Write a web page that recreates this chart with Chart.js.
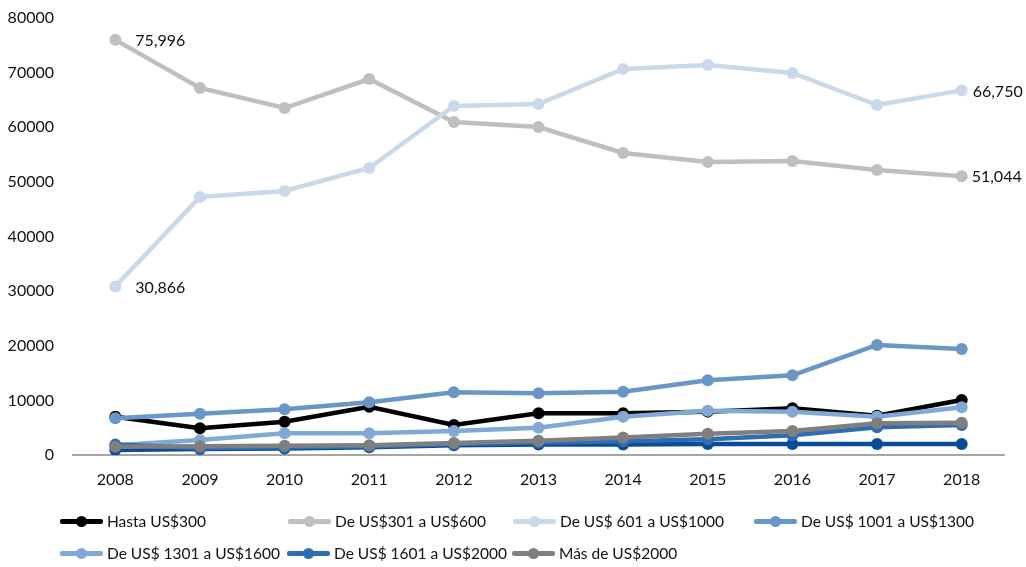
<!DOCTYPE html>
<html>
<head>
<meta charset="utf-8">
<script src="https://cdn.jsdelivr.net/npm/chart.js@4.4.1/dist/chart.umd.min.js"></script>
<style>
  html, body { margin: 0; padding: 0; background: #fff; }
  #wrap { position: relative; width: 1026px; height: 567px; overflow: hidden; }
  #c { position: absolute; left: 0; top: 0; }
  .lg { position: absolute; display: flex; align-items: center; font-family: Lato, "Open Sans", sans-serif; font-size: 15.5px; color: #111; white-space: nowrap; height: 20px; }
  .sym { position: relative; width: 43px; height: 20px; margin-right: 4px; flex: none; }
  .sym .ln { position: absolute; left: 0; right: 0; top: 8px; height: 4.5px; border-radius: 2px; }
  .sym .dt { position: absolute; left: 16px; top: 4.5px; width: 11px; height: 11px; border-radius: 50%; }
</style>
</head>
<body>
<div id="wrap">
  <canvas id="c" width="1026" height="567"></canvas>
</div>
<script>
const years = ['2008','2009','2010','2011','2012','2013','2014','2015','2016','2017','2018'];
const yTicks = [0, 10000, 20000, 30000, 40000, 50000, 60000, 70000, 80000];

const seriesNames = [
  'Hasta US$300',
  'De US$301 a US$600',
  'De US$ 601 a US$1000',
  'De US$ 1001 a US$1300',
  'De US$ 1301 a US$1600',
  'De US$ 1601 a US$2000',
  'Más de US$2000'
];

const hasta300  = [7010, 4880, 6100, 8840, 5490, 7630, 7630, 7940, 8540, 7200, 10070];
const de301     = [75996, 67190, 63520, 68830, 60960, 60050, 55290, 53640, 53820, 52170, 51044];
const de601     = [30866, 47230, 48330, 52540, 63890, 64260, 70660, 71400, 69930, 64070, 66750];
const de1001    = [6720, 7560, 8370, 9650, 11480, 11300, 11590, 13680, 14590, 20140, 19400];
const de1301    = [1800, 2750, 3970, 3970, 4390, 5000, 7010, 8110, 7930, 7010, 8730];
const de1601    = [1900, 1300, 1400, 1600, 2000, 2300, 2500, 2900, 3600, 5100, 5500];
const mas2000   = [1500, 1600, 1700, 1800, 2200, 2600, 3200, 3900, 4400, 5800, 5900];
const sinLeyenda = [900, 1100, 1200, 1400, 1800, 1900, 1900, 2000, 2000, 2000, 2000];

const colors = ['#000000', '#bfbfbf', '#c9d9eb', '#6896c7', '#80a9d5', '#2e6db4', '#7f7f7f'];
const hiddenColor = '#0a4c98';

const allData = [hasta300, de301, de601, de1001, de1301, de1601, mas2000];

function ds(label, data, color, order) {
  return {
    label: label, data: data,
    borderColor: color, backgroundColor: color,
    pointBackgroundColor: color, pointBorderColor: color,
    borderWidth: 4.5, pointRadius: 6, pointHoverRadius: 6, pointBorderWidth: 0,
    tension: 0, fill: false, order: order
  };
}

const datasets = [ds('', sinLeyenda, hiddenColor, 20)];
allData.forEach((d, i) => datasets.push(ds(seriesNames[i], d, colors[i], 10 - i)));

// labels: [dataset index, point index, x offset]
const valueLabels = [[2, 0, 20], [3, 0, 20], [3, 10, 11], [2, 10, 10]];

const labelPlugin = {
  id: 'valueLabels',
  afterDatasetsDraw(chart) {
    const ctx = chart.ctx;
    ctx.save();
    ctx.font = '16px Lato, "Open Sans", sans-serif';
    ctx.fillStyle = '#111';
    ctx.textAlign = 'left';
    ctx.textBaseline = 'middle';
    valueLabels.forEach(([di, pi, dx]) => {
      const meta = chart.getDatasetMeta(di);
      const pt = meta.data[pi];
      const v = chart.data.datasets[di].data[pi];
      ctx.fillText(v.toLocaleString('en-US'), pt.x + dx, pt.y + 1);
    });
    ctx.restore();
  }
};

new Chart(document.getElementById('c'), {
  type: 'line',
  data: { labels: years, datasets: datasets },
  options: {
    responsive: false,
    animation: false,
    devicePixelRatio: 1,
    layout: { padding: { left: 0, right: 22, top: 18, bottom: 0 } },
    plugins: { legend: { display: false }, tooltip: { enabled: false } },
    scales: {
      x: {
        offset: true,
        grid: { display: false, drawTicks: false },
        border: { display: true, color: '#a6a6a6', width: 2 },
        ticks: { padding: 15, color: '#111', font: { family: 'Lato, "Open Sans", sans-serif', size: 16 }, maxRotation: 0 },
        afterFit(scale) { scale.height = 112; scale.paddingLeft = 0; scale.paddingRight = 0; }
      },
      y: {
        min: 0, max: 80000,
        afterBuildTicks(scale) { scale.ticks = yTicks.map(v => ({ value: v })); },
        grid: { display: false, drawTicks: false },
        border: { display: false },
        ticks: { padding: 19, color: '#111', font: { family: 'Lato, "Open Sans", sans-serif', size: 16 }, callback: v => String(v) },
        afterFit(scale) { scale.width = 73; scale.paddingTop = 0; scale.paddingBottom = 0; }
      }
    }
  },
  plugins: [labelPlugin]
});

// HTML legend built from series names and colours
const legendPos = [[60, 511], [288, 511], [513, 511], [754, 511], [60, 543], [287, 543], [512, 543]];
const wrap = document.getElementById('wrap');
seriesNames.forEach((name, i) => {
  const item = document.createElement('div');
  item.className = 'lg';
  item.style.left = legendPos[i][0] + 'px';
  item.style.top = legendPos[i][1] + 'px';
  const sym = document.createElement('div');
  sym.className = 'sym';
  const ln = document.createElement('div'); ln.className = 'ln'; ln.style.background = colors[i];
  const dt = document.createElement('div'); dt.className = 'dt'; dt.style.background = colors[i];
  sym.appendChild(ln); sym.appendChild(dt);
  const tx = document.createElement('span'); tx.textContent = name;
  item.appendChild(sym); item.appendChild(tx);
  wrap.appendChild(item);
});
</script>
</body>
</html>
